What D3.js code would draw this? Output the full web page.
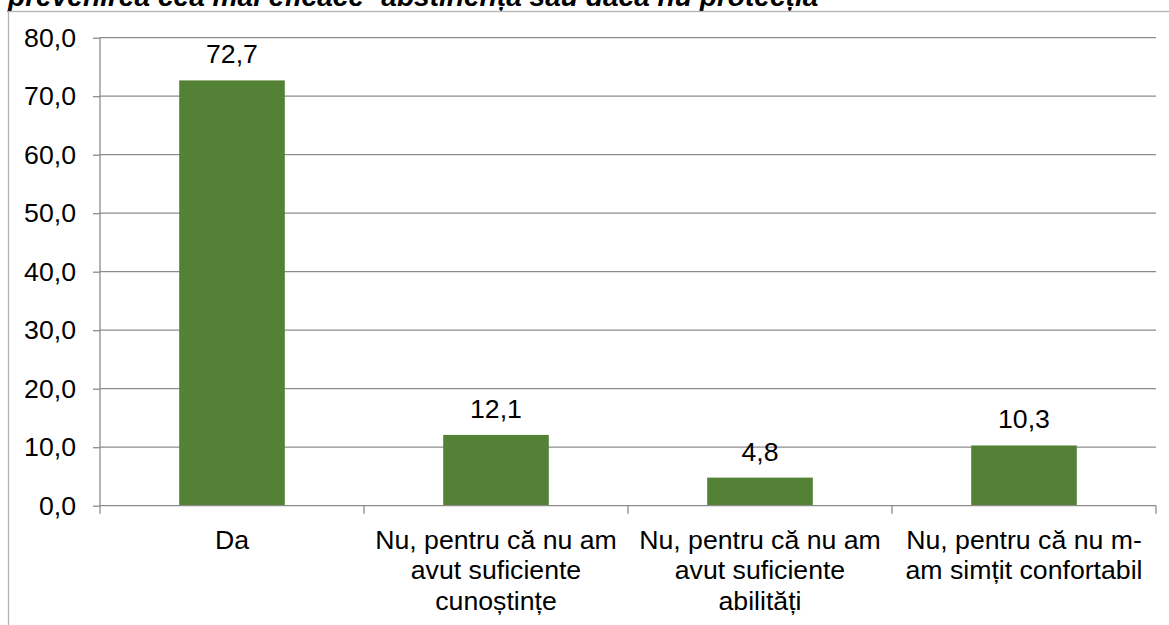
<!DOCTYPE html>
<html>
<head>
<meta charset="utf-8">
<script src="https://cdn.jsdelivr.net/npm/d3@7"></script>
<style>
body{margin:0;background:#fff;}
svg{display:block;font-family:"Liberation Sans",Arial,sans-serif;}
</style>
</head>
<body>
<div id="chart"></div>
<script>
(function(){

var categories = ["Da",
	"Nu, pentru că nu am avut suficiente cunoștințe",
	"Nu, pentru că nu am avut suficiente abilități",
	"Nu, pentru că nu m-am simțit confortabil"]
var categoryLines = [["Da"],
	["Nu, pentru că nu am","avut suficiente","cunoștințe"],
	["Nu, pentru că nu am","avut suficiente","abilități"],
	["Nu, pentru că nu m-","am simțit confortabil"]]
var values = [72.7, 12.1, 4.8, 10.3]
var yTicks = [0,10,20,30,40,50,60,70,80]
var title = "prevenirea cea mai eficace- abstinența sau dacă nu protecția"

var W = 1169, H = 625
var margin = {top: 37.7, right: 13, bottom: 119.3, left: 100},
	width = W - margin.left - margin.right,
	height = H - margin.top - margin.bottom;

var fs = 26.67
var fo = function(v){ return d3.format(".1f")(v).replace(".", ",") }

var svg = d3.select("#chart").append("svg")
	.attr("width", W)
	.attr("height", H)

// title, cut off above the frame as in the source
svg.append("text").text(title)
	.attr("x", 8)
	.attr("y", 6)
	.style("font-size", 28.1)
	.style("font-style", "italic")
	.style("font-weight", "bold")
	.style("fill", "#000")

// chart frame
svg.append("rect")
	.attr("x", 8.5).attr("y", 11.5)
	.attr("width", W).attr("height", H)
	.style("fill", "none")
	.style("stroke", "#b3b3b3")
	.style("stroke-width", 1.3)

var plot = svg.append("g")
	.attr("transform", "translate(" + margin.left + "," + margin.top + ")")

var x = d3.scaleBand().domain(categories).range([0, width])
	.paddingInner(0.6).paddingOuter(0.3)
var y = d3.scaleLinear().domain([0, 80]).range([height, 0])

// gridlines
plot.selectAll(".grid").data(yTicks.filter(function(d){return d>0})).enter()
	.append("line").attr("class","grid")
	.attr("x1", 0).attr("x2", width)
	.attr("y1", function(d){return y(d)}).attr("y2", function(d){return y(d)})
	.style("stroke", "#8c8c8c")
	.style("stroke-width", 1.3)

// bars
plot.selectAll(".bar").data(values).enter()
	.append("rect").attr("class","bar")
	.attr("x", function(d,i){return x(categories[i])})
	.attr("width", x.bandwidth())
	.attr("y", function(d){return y(d)})
	.attr("height", function(d){return height - y(d)})
	.style("fill", "#538135")

// value labels
plot.selectAll(".val").data(values).enter()
	.append("text").attr("class","val")
	.text(function(d){return fo(d)})
	.attr("x", function(d,i){return x(categories[i]) + x.bandwidth()/2})
	.attr("y", function(d){return y(d) - 17})
	.style("text-anchor", "middle")
	.style("font-size", fs)
	.style("fill", "#000")

// y axis
var yAxis = plot.append("g")
	.call(d3.axisLeft(y).tickValues(yTicks).tickSize(7).tickPadding(17).tickFormat(fo))
yAxis.select(".domain").attr("d", "M0," + y(80) + "V" + height)
yAxis.selectAll("line, path").style("stroke", "#8c8c8c").style("stroke-width", 1.3)
yAxis.selectAll("text").style("font-size", fs).style("fill", "#000")
	.style("font-family", "\"Liberation Sans\",Arial,sans-serif")

// x axis with boundary ticks
var bounds = d3.range(categories.length + 1).map(function(i){return i * width / categories.length})
var xAxis = plot.append("g").attr("transform", "translate(0," + height + ")")
xAxis.append("line").attr("x1", 0).attr("x2", width)
	.style("stroke", "#8c8c8c").style("stroke-width", 1.3)
xAxis.selectAll(".xt").data(bounds).enter()
	.append("line").attr("class","xt")
	.attr("x1", function(d){return d}).attr("x2", function(d){return d})
	.attr("y1", 0).attr("y2", 8)
	.style("stroke", "#8c8c8c").style("stroke-width", 1.3)

var cat = xAxis.selectAll(".cat").data(categories).enter()
	.append("text").attr("class","cat")
	.attr("transform", function(d){return "translate(" + (x(d) + x.bandwidth()/2) + ",43)"})
	.style("text-anchor", "middle")
	.style("font-size", fs)
	.style("fill", "#000")
cat.selectAll("tspan").data(function(d,i){return categoryLines[i]}).enter()
	.append("tspan")
	.attr("x", 0)
	.attr("y", function(d,i){return i * 30.5})
	.text(function(d){return d})

})()
</script>
</body>
</html>
